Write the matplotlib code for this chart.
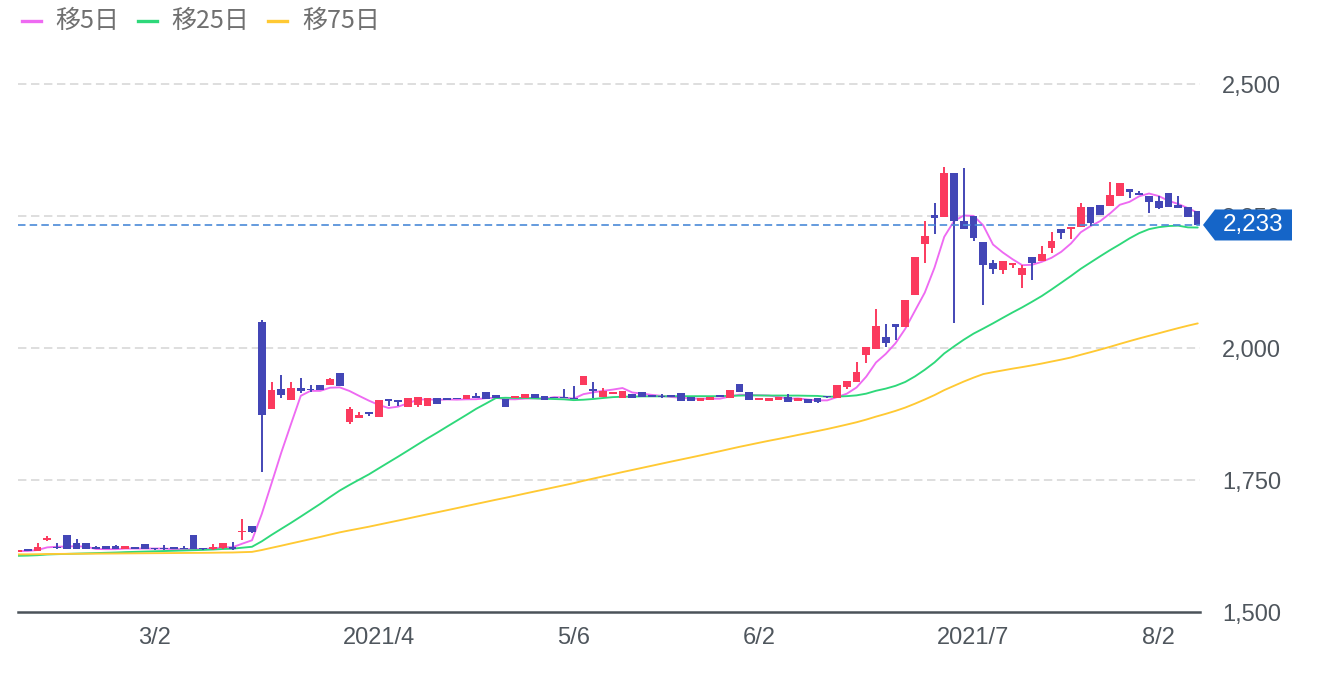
import numpy as np
import pandas as pd
import matplotlib
matplotlib.use("Agg")
import matplotlib.pyplot as plt
from matplotlib.patches import Polygon
from matplotlib.lines import Line2D
from matplotlib.transforms import IdentityTransform

# ---- data ----
opens = [1613, 1619, 1616, 1637, 1624, 1646, 1631, 1630, 1623, 1625,
         1625, 1619, 1623, 1628, 1620, 1620, 1623, 1620, 1645, 1620,
         1619, 1621, 1624, 1651, 1662, 2050, 1884, 1922, 1902, 1925,
         1922, 1930, 1929, 1952, 1859, 1868, 1879, 1869, 1903, 1901,
         1889, 1892, 1891, 1906, 1905, 1906, 1903, 1909, 1917, 1911,
         1903, 1905, 1906, 1912, 1910, 1908, 1906, 1906, 1929, 1922,
         1908, 1912, 1905, 1912, 1916, 1911, 1909, 1911, 1914, 1908,
         1899, 1902, 1911, 1905, 1931, 1917, 1902, 1899, 1902, 1907,
         1899, 1903, 1905, 1910, 1905, 1927, 1935, 1987, 1999, 2020,
         2045, 2039, 2100, 2197, 2251, 2249, 2331, 2240, 2250, 2201,
         2161, 2148, 2157, 2139, 2172, 2164, 2189, 2225, 2225, 2229,
         2267, 2270, 2269, 2287, 2301, 2293, 2288, 2279, 2294, 2270,
         2267, 2260]
highs = [1617, 1620, 1630, 1643, 1630, 1646, 1638, 1630, 1625, 1625,
         1626, 1625, 1624, 1628, 1621, 1627, 1623, 1625, 1645, 1621,
         1629, 1631, 1633, 1676, 1662, 2053, 1936, 1949, 1936, 1943,
         1930, 1930, 1944, 1952, 1889, 1878, 1879, 1901, 1903, 1901,
         1905, 1908, 1905, 1906, 1905, 1906, 1911, 1914, 1917, 1911,
         1903, 1910, 1913, 1912, 1910, 1908, 1922, 1928, 1947, 1936,
         1924, 1917, 1919, 1912, 1916, 1911, 1913, 1911, 1914, 1908,
         1906, 1908, 1911, 1920, 1931, 1917, 1906, 1906, 1907, 1913,
         1906, 1903, 1905, 1910, 1929, 1938, 1974, 2001, 2074, 2045,
         2045, 2091, 2172, 2240, 2274, 2343, 2331, 2340, 2250, 2201,
         2167, 2165, 2161, 2157, 2172, 2193, 2220, 2225, 2230, 2275,
         2267, 2270, 2314, 2312, 2301, 2298, 2288, 2287, 2294, 2287,
         2267, 2260]
lows = [1613, 1615, 1615, 1635, 1620, 1619, 1619, 1619, 1619, 1619,
        1619, 1619, 1619, 1619, 1618, 1618, 1619, 1619, 1620, 1618,
        1618, 1620, 1618, 1637, 1650, 1766, 1884, 1905, 1901, 1915,
        1917, 1920, 1929, 1928, 1856, 1868, 1872, 1869, 1890, 1891,
        1889, 1889, 1891, 1893, 1902, 1903, 1903, 1906, 1903, 1906,
        1889, 1905, 1906, 1905, 1902, 1905, 1905, 1904, 1929, 1905,
        1908, 1912, 1905, 1905, 1908, 1907, 1905, 1908, 1899, 1899,
        1899, 1902, 1908, 1905, 1916, 1902, 1902, 1899, 1902, 1898,
        1899, 1895, 1895, 1905, 1905, 1922, 1935, 1971, 1999, 2002,
        2015, 2039, 2100, 2161, 2216, 2249, 2047, 2225, 2203, 2081,
        2141, 2141, 2151, 2113, 2129, 2164, 2180, 2206, 2206, 2229,
        2231, 2251, 2269, 2287, 2284, 2289, 2255, 2263, 2267, 2265,
        2249, 2233]
closes = [1617, 1616, 1624, 1640, 1621, 1619, 1619, 1619, 1619, 1619,
          1619, 1625, 1619, 1619, 1619, 1619, 1619, 1619, 1620, 1619,
          1624, 1631, 1619, 1654, 1651, 1873, 1920, 1911, 1925, 1918,
          1920, 1920, 1941, 1928, 1884, 1873, 1875, 1901, 1899, 1897,
          1905, 1908, 1905, 1893, 1902, 1903, 1911, 1906, 1903, 1906,
          1889, 1910, 1913, 1905, 1902, 1905, 1905, 1904, 1947, 1919,
          1919, 1917, 1919, 1905, 1908, 1907, 1908, 1908, 1899, 1899,
          1906, 1908, 1908, 1920, 1916, 1902, 1906, 1906, 1907, 1898,
          1906, 1895, 1898, 1907, 1929, 1938, 1954, 2001, 2041, 2010,
          2039, 2091, 2172, 2212, 2247, 2331, 2240, 2225, 2208, 2157,
          2150, 2165, 2161, 2151, 2161, 2178, 2203, 2218, 2230, 2267,
          2236, 2251, 2290, 2312, 2295, 2289, 2277, 2266, 2267, 2265,
          2249, 2233]

# level of each moving average at the chart's left edge
ma_windows = [5, 25, 75]
ma_start = [1615, 1606, 1609]
ma_labels = ["移5日", "移25日", "移75日"]
ma_colors = ["#ee6af2", "#2ed87a", "#ffc933"]

tick_pos = [14, 37, 57, 76, 98, 117]
tick_labels = ["3/2", "2021/4", "5/6", "6/2", "2021/7", "8/2"]
y_ticks = [1500, 1750, 2000, 2250, 2500]

UP = "#fb3a5e"
DOWN = "#4346b6"

# ---- figure ----
W, H = 1318, 680
fig = plt.figure(figsize=(W / 100, H / 100), dpi=100)
fig.patch.set_facecolor("white")
ax = fig.add_axes([18 / W, 68 / H, 1182 / W, 572 / H])
ax.set_xlim(0, 1182 / 9.75)
ax.set_ylim(1500, 1500 + 572 * 500 / 264)
for s in ax.spines.values():
    s.set_visible(False)

o = np.array(opens, float)
h = np.array(highs, float)
l = np.array(lows, float)
c = np.array(closes, float)
x = np.arange(len(c))

# grid
for yv in y_ticks[1:]:
    ax.axhline(yv, color="#d5d5d5", lw=1.1, dashes=(5.5, 3.0), zorder=1)

# moving averages
cs = pd.Series(c)
for n, seed, col in zip(ma_windows, ma_start, ma_colors):
    s = pd.concat([pd.Series([float(seed)] * (n - 1)), cs], ignore_index=True)
    m = s.rolling(n).mean().iloc[n - 1:].to_numpy()
    ax.plot(x, m, color=col, lw=1.35, zorder=2, solid_capstyle="round")

# candles
up = c >= o
colors = np.where(up, UP, DOWN)
ax.vlines(x, l, h, colors=colors, lw=1.4, zorder=3)
body_bot = np.minimum(o, c)
body_h = np.maximum(np.abs(c - o), 2.0)
ax.bar(x, body_h, bottom=body_bot, width=0.82, color=colors, edgecolor="none",
       zorder=4)

# last price dashed line
last = c[-1]
ax.axhline(last, color="#4a8ad8", lw=1.2, dashes=(4.5, 2.5), zorder=5)

# base axis line
ax.plot([0, 1], [0, 0], transform=ax.transAxes, color="#4b5259", lw=1.8,
        clip_on=False, zorder=6)

# ticks
ax.set_xticks(tick_pos)
ax.set_xticklabels(tick_labels)
ax.set_yticks(y_ticks)
ax.set_yticklabels([f"{v:,}" for v in y_ticks])
ax.yaxis.tick_right()
ax.tick_params(axis="both", length=0, labelsize=17, colors="#4f565d")
ax.tick_params(axis="y", pad=16)
ax.tick_params(axis="x", pad=11)
for t in ax.get_xticklabels() + ax.get_yticklabels():
    t.set_fontfamily(["Liberation Sans", "DejaVu Sans"])

# price tag (covers the 2,250 label, as in the reference)
fig.canvas.draw()
ypix = ax.transData.transform((0, last))[1]
th = 15.5
tag = Polygon([(1203, ypix), (1215, ypix + th), (1292, ypix + th),
               (1292, ypix - th), (1215, ypix - th)], closed=True,
              facecolor="#1565c8", edgecolor="none", transform=IdentityTransform(),
              zorder=10)
fig.add_artist(tag)
fig.text(1253, ypix, f"{int(last):,}", transform=IdentityTransform(),
         ha="center", va="center", color="white", fontsize=17.5,
         family=["Liberation Sans", "DejaVu Sans"], zorder=11)

# legend
lx = [22, 138, 268]
tx = [55, 171, 302]
ly = H - 21
for i in range(3):
    fig.add_artist(Line2D([lx[i], lx[i] + 19], [ly, ly], color=ma_colors[i], lw=2.4,
                          transform=IdentityTransform()))
    fig.text(tx[i], ly, ma_labels[i], transform=IdentityTransform(), ha="left",
             va="center", color="#707070", fontsize=18,
             family=["Noto Sans CJK JP", "DejaVu Sans"])

fig.savefig("out.png", dpi=100, facecolor="white")
